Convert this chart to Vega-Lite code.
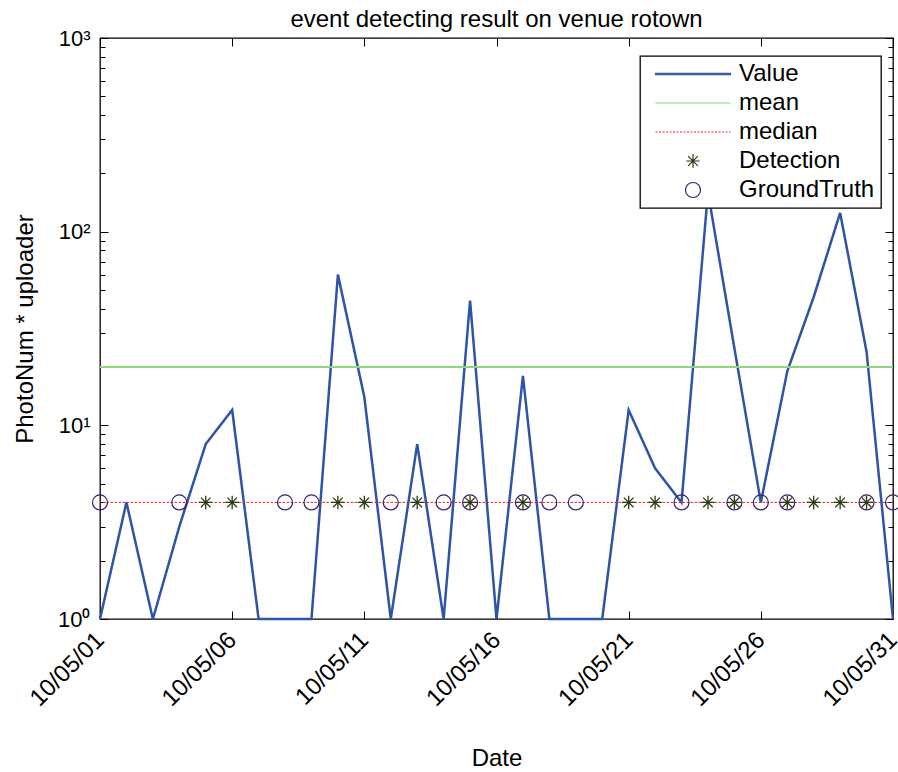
{
  "$schema": "https://vega.github.io/schema/vega-lite/v6.json",
  "width": 793,
  "height": 581,
  "autosize": {"type": "none"},
  "padding": {"left": 100, "top": 38, "right": 5, "bottom": 153},
  "background": "white",
  "title": {"text": "event detecting result on venue rotown", "fontSize": 24, "font": "Liberation Sans", "fontWeight": "normal", "color": "#000", "baseline": "alphabetic", "offset": -24, "anchor": "middle", "frame": "group"},
  "config": {
    "view": {"stroke": "#000", "strokeWidth": 1.3},
    "font": "Liberation Sans",
    "axis": {"domain": false, "grid": false, "labelFont": "Liberation Sans", "labelFontSize": 22, "labelColor": "#000", "titleFont": "Liberation Sans", "titleFontSize": 24, "titleFontWeight": "normal", "titleColor": "#000", "tickColor": "#000", "tickWidth": 1}
  },
  "datasets": {
    "daily": [
      {"date": "2010-05-01", "value": 1, "detection": null, "groundtruth": 4},
      {"date": "2010-05-02", "value": 4, "detection": null, "groundtruth": null},
      {"date": "2010-05-03", "value": 1, "detection": null, "groundtruth": null},
      {"date": "2010-05-04", "value": 3, "detection": null, "groundtruth": 4},
      {"date": "2010-05-05", "value": 8, "detection": 4, "groundtruth": null},
      {"date": "2010-05-06", "value": 12, "detection": 4, "groundtruth": null},
      {"date": "2010-05-07", "value": 1, "detection": null, "groundtruth": null},
      {"date": "2010-05-08", "value": 1, "detection": null, "groundtruth": 4},
      {"date": "2010-05-09", "value": 1, "detection": null, "groundtruth": 4},
      {"date": "2010-05-10", "value": 60, "detection": 4, "groundtruth": null},
      {"date": "2010-05-11", "value": 14, "detection": 4, "groundtruth": null},
      {"date": "2010-05-12", "value": 1, "detection": null, "groundtruth": 4},
      {"date": "2010-05-13", "value": 8, "detection": 4, "groundtruth": null},
      {"date": "2010-05-14", "value": 1, "detection": null, "groundtruth": 4},
      {"date": "2010-05-15", "value": 44, "detection": 4, "groundtruth": 4},
      {"date": "2010-05-16", "value": 1, "detection": null, "groundtruth": null},
      {"date": "2010-05-17", "value": 18, "detection": 4, "groundtruth": 4},
      {"date": "2010-05-18", "value": 1, "detection": null, "groundtruth": 4},
      {"date": "2010-05-19", "value": 1, "detection": null, "groundtruth": 4},
      {"date": "2010-05-20", "value": 1, "detection": null, "groundtruth": null},
      {"date": "2010-05-21", "value": 12, "detection": 4, "groundtruth": null},
      {"date": "2010-05-22", "value": 6, "detection": 4, "groundtruth": null},
      {"date": "2010-05-23", "value": 4, "detection": null, "groundtruth": 4},
      {"date": "2010-05-24", "value": 160, "detection": 4, "groundtruth": null},
      {"date": "2010-05-25", "value": 25, "detection": 4, "groundtruth": 4},
      {"date": "2010-05-26", "value": 4, "detection": null, "groundtruth": 4},
      {"date": "2010-05-27", "value": 19, "detection": 4, "groundtruth": 4},
      {"date": "2010-05-28", "value": 46, "detection": 4, "groundtruth": null},
      {"date": "2010-05-29", "value": 125, "detection": 4, "groundtruth": null},
      {"date": "2010-05-30", "value": 24, "detection": 4, "groundtruth": 4},
      {"date": "2010-05-31", "value": 1, "detection": null, "groundtruth": 4}
    ]
  },
  "layer": [
    {
      "data": {"name": "daily"},
      "mark": {"type": "line", "strokeWidth": 2.5},
      "encoding": {
        "x": {
          "field": "date", "type": "temporal",
          "scale": {"type": "utc", "domain": [{"year": 2010, "month": 5, "date": 1, "utc": true}, {"year": 2010, "month": 5, "date": 31, "utc": true}]},
          "axis": {
            "orient": "bottom",
            "values": [{"year": 2010, "month": 5, "date": 1, "utc": true}, {"year": 2010, "month": 5, "date": 6, "utc": true}, {"year": 2010, "month": 5, "date": 11, "utc": true}, {"year": 2010, "month": 5, "date": 16, "utc": true}, {"year": 2010, "month": 5, "date": 21, "utc": true}, {"year": 2010, "month": 5, "date": 26, "utc": true}, {"year": 2010, "month": 5, "date": 31, "utc": true}],
            "labelExpr": "utcFormat(datum.value, '%y/%m/%d')",
            "labelAngle": -45, "labelAlign": "right", "labelBaseline": "middle", "labelFontSize": 24,
            "labelFlush": false, "labelOverlap": false, "labelBound": false,
            "tickSize": -8, "labelPadding": 25,
            "title": "Date", "titleY": 146, "titleBaseline": "alphabetic"
          }
        },
        "y": {
          "field": "value", "type": "quantitative",
          "scale": {"type": "log", "domain": [1, 1000], "nice": false},
          "axis": {
            "orient": "left", "values": [1, 10, 100, 1000],
            "labelExpr": "datum.value == 1 ? '10⁰' : datum.value == 10 ? '10¹' : datum.value == 100 ? '10²' : '10³'",
            "labelFlush": false, "labelOverlap": false, "labelBaseline": "middle",
            "tickSize": -8, "labelPadding": 18,
            "title": "PhotoNum * uploader", "titleX": -68, "titleY": 290.5, "titleAngle": -90, "titleBaseline": "alphabetic", "titleAlign": "center"
          }
        },
        "color": {
          "datum": "Value",
          "scale": {"domain": ["Value", "mean", "median", "Detection", "GroundTruth"], "range": ["#2e54a6", "#90d47e", "#e8202a", "#2d3a12", "#3d2068"]},
          "legend": {
            "title": null,
            "orient": "none", "legendX": 540, "legendY": 18,
            "direction": "vertical",
            "fillColor": "white", "strokeColor": "black",
            "padding": 6, "cornerRadius": 0, "rowPadding": 5,
            "symbolSize": 225, "symbolStrokeWidth": 1.2,
            "symbolOffset": 35, "labelOffset": 34,
            "labelFontSize": 24, "labelFont": "Liberation Sans", "labelColor": "#000", "labelLimit": 300,
            "encode": {
              "symbols": {"update": {
                "shape": [
                  {"test": "datum.value === 'Value'", "value": "M-5,-0.1L5,-0.1L5,0.1L-5,0.1Z"},
                  {"test": "datum.value === 'mean' || datum.value === 'median'", "value": "M-5,0L5,0"},
                  {"test": "datum.value === 'Detection'", "value": "M-0.9,0L0.9,0M0,-0.9L0,0.9M-0.64,-0.64L0.64,0.64M-0.64,0.64L0.64,-0.64"},
                  {"value": "circle"}
                ],
                "stroke": {"scale": "color", "field": "value"},
                "fill": [{"test": "datum.value === 'Value'", "scale": "color", "field": "value"}, {"value": "transparent"}],
                "strokeDash": [{"test": "datum.value === 'median'", "value": [2, 1.5]}, {"value": []}],
                "opacity": {"value": 1}
              }},
              "legend": {"update": {"strokeWidth": {"value": 1.3}}}
            }
          }
        }
      }
    },
    {
      "data": {"values": [{"stat": "mean", "level": 20}]},
      "mark": {"type": "rule", "strokeWidth": 2},
      "encoding": {
        "y": {
          "field": "level", "type": "quantitative",
          "scale": {"type": "log", "domain": [1, 1000], "nice": false},
          "axis": {"orient": "left", "values": [2, 3, 4, 5, 6, 7, 8, 9, 20, 30, 40, 50, 60, 70, 80, 90, 200, 300, 400, 500, 600, 700, 800, 900], "labels": false, "tickSize": -5, "title": null}
        },
        "color": {"datum": "mean", "scale": {"domain": ["Value", "mean", "median", "Detection", "GroundTruth"], "range": ["#2e54a6", "#90d47e", "#e8202a", "#2d3a12", "#3d2068"]}}
      }
    },
    {
      "data": {"values": [{"stat": "median", "level": 4}]},
      "mark": {"type": "rule", "strokeWidth": 1, "strokeDash": [2.5, 1.5]},
      "encoding": {
        "y": {
          "field": "level", "type": "quantitative",
          "scale": {"type": "log", "domain": [1, 1000], "nice": false},
          "axis": {"orient": "right", "values": [1, 10, 100, 1000], "labels": false, "tickSize": -8, "title": null}
        },
        "color": {"datum": "median", "scale": {"domain": ["Value", "mean", "median", "Detection", "GroundTruth"], "range": ["#2e54a6", "#90d47e", "#e8202a", "#2d3a12", "#3d2068"]}}
      }
    },
    {
      "data": {"name": "daily"},
      "transform": [{"filter": "datum.detection != null"}],
      "mark": {"type": "point", "filled": false, "size": 225, "strokeWidth": 1.3, "opacity": 1, "shape": "M-0.9,0L0.9,0M0,-0.9L0,0.9M-0.64,-0.64L0.64,0.64M-0.64,0.64L0.64,-0.64"},
      "encoding": {
        "x": {
          "field": "date", "type": "temporal",
          "scale": {"type": "utc", "domain": [{"year": 2010, "month": 5, "date": 1, "utc": true}, {"year": 2010, "month": 5, "date": 31, "utc": true}]},
          "axis": {"orient": "top", "values": [{"year": 2010, "month": 5, "date": 1, "utc": true}, {"year": 2010, "month": 5, "date": 6, "utc": true}, {"year": 2010, "month": 5, "date": 11, "utc": true}, {"year": 2010, "month": 5, "date": 16, "utc": true}, {"year": 2010, "month": 5, "date": 21, "utc": true}, {"year": 2010, "month": 5, "date": 26, "utc": true}, {"year": 2010, "month": 5, "date": 31, "utc": true}], "labels": false, "tickSize": -8, "title": null}
        },
        "y": {
          "field": "detection", "type": "quantitative",
          "scale": {"type": "log", "domain": [1, 1000], "nice": false},
          "axis": {"orient": "right", "values": [2, 3, 4, 5, 6, 7, 8, 9, 20, 30, 40, 50, 60, 70, 80, 90, 200, 300, 400, 500, 600, 700, 800, 900], "labels": false, "tickSize": -5, "title": null}
        },
        "color": {"datum": "Detection", "scale": {"domain": ["Value", "mean", "median", "Detection", "GroundTruth"], "range": ["#2e54a6", "#90d47e", "#e8202a", "#2d3a12", "#3d2068"]}}
      }
    },
    {
      "data": {"name": "daily"},
      "transform": [{"filter": "datum.groundtruth != null"}],
      "mark": {"type": "point", "filled": false, "size": 225, "strokeWidth": 1.2, "opacity": 1, "shape": "circle"},
      "encoding": {
        "x": {
          "field": "date", "type": "temporal",
          "scale": {"type": "utc", "domain": [{"year": 2010, "month": 5, "date": 1, "utc": true}, {"year": 2010, "month": 5, "date": 31, "utc": true}]},
          "axis": null
        },
        "y": {
          "field": "groundtruth", "type": "quantitative",
          "scale": {"type": "log", "domain": [1, 1000], "nice": false},
          "axis": null
        },
        "color": {"datum": "GroundTruth", "scale": {"domain": ["Value", "mean", "median", "Detection", "GroundTruth"], "range": ["#2e54a6", "#90d47e", "#e8202a", "#2d3a12", "#3d2068"]}}
      }
    }
  ],
  "resolve": {"axis": {"x": "independent", "y": "independent"}}
}
